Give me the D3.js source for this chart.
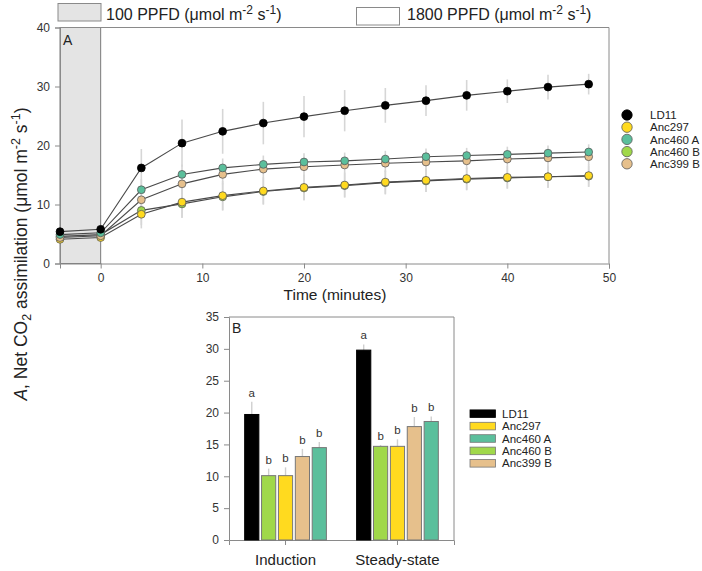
<!DOCTYPE html>
<html><head><meta charset="utf-8">
<script src="https://cdn.jsdelivr.net/npm/d3@7"></script>
<style>
body{margin:0;background:#fff;}
text{font-family:"Liberation Sans",Arial,sans-serif;}
</style></head>
<body><svg id="c" width="702" height="571"></svg>
<script>
// ---------- DATA ----------
const times = [-4,0,4,8,12,16,20,24,28,32,36,40,44,48];
const seriesNames = ["LD11","Anc297","Anc460 A","Anc460 B","Anc399 B"];
const seriesColors = ["#000000","#FFDA1F","#5BBF9C","#A0D84A","#E6C08C"];
const ld11 = [5.4,5.8,16.2,20.4,22.4,23.8,24.9,25.9,26.8,27.6,28.5,29.2,29.9,30.4];
const anc297 = [4.1,4.4,8.35,10.4,11.5,12.3,12.9,13.3,13.8,14.1,14.4,14.6,14.7,14.9];
const anc460A = [4.9,5.2,12.5,15.1,16.2,16.8,17.2,17.4,17.7,18.1,18.3,18.5,18.7,18.9];
const anc460B = [4.6,4.9,9.0,10.1,11.3,12.2,12.8,13.2,13.7,14.0,14.3,14.5,14.7,14.8];
const anc399B = [4.4,4.7,10.8,13.5,15.1,16.0,16.4,16.7,17.0,17.2,17.4,17.7,17.9,18.1];
const ld11Err = [0.3,0.3,3.2,4.0,3.8,3.6,3.5,3.5,2.95,2.6,2.6,2.0,2.1,1.75];
const anc297Err = [0.3,0.3,2.4,2.6,2.5,2.3,2.2,2.1,2.0,2.0,1.9,1.9,1.9,1.9];
const anc460AErr = [0.3,0.3,1.8,1.7,1.6,1.5,1.5,1.4,1.4,1.4,1.3,1.3,1.3,1.3];
const anc460BErr = [0.3,0.3,2.5,2.4,2.3,2.2,2.1,2.0,2.0,1.9,1.9,1.8,1.8,1.8];
const anc399BErr = [0.3,0.3,1.9,1.8,1.7,1.6,1.6,1.5,1.5,1.5,1.4,1.4,1.4,1.4];
const xTicksA = [0,10,20,30,40,50];
const yTicksA = [0,10,20,30,40];

const groups = ["Induction","Steady-state"];
const barOrder = ["LD11","Anc460 B","Anc297","Anc399 B","Anc460 A"];
const barInduction = [19.7,10.1,10.1,13.1,14.5];
const barSteady = [29.8,14.7,14.7,17.8,18.6];
const errInduction = [2.0,1.1,1.3,1.2,0.9];
const errSteady = [0.9,0.2,1.1,1.5,0.8];
const lettersInduction = ["a","b","b","b","b"];
const lettersSteady = ["a","b","b","b","b"];
const yTicksB = [0,5,10,15,20,25,30,35];

// ---------- CHART ----------
const svg = d3.select("#c");
const axisCol = "#8a8a8a", txtCol = "#333";
const colorOf = d3.scaleOrdinal().domain(seriesNames).range(seriesColors);

// ===== Panel A =====
const A = {l:60, r:609, t:27.5, b:263.5};
const x = d3.scaleLinear().domain([-4,50]).range([A.l,A.r]);
const y = d3.scaleLinear().domain([0,40]).range([A.b,A.t]);

svg.append("rect").attr("x",x(-4)).attr("y",y(40)).attr("width",x(0)-x(-4)).attr("height",y(0)-y(40))
  .attr("fill","#e4e4e4").attr("stroke","#7a7a7a").attr("stroke-width",1);

svg.append("line").attr("x1",A.l).attr("x2",A.r).attr("y1",A.t).attr("y2",A.t).attr("stroke",axisCol);
svg.append("line").attr("x1",A.r).attr("x2",A.r).attr("y1",A.t).attr("y2",A.b).attr("stroke",axisCol);

const gx = svg.append("g").attr("transform",`translate(0,${A.b})`)
  .call(d3.axisBottom(x).tickValues(xTicksA).tickSize(5).tickPadding(5).tickFormat(d3.format("d")));
const gy = svg.append("g").attr("transform",`translate(${A.l},0)`)
  .call(d3.axisLeft(y).tickValues(yTicksA).tickSize(5).tickPadding(5));
[gx,gy].forEach(g=>{
  g.selectAll("path,line").attr("stroke",axisCol);
  g.selectAll("text").attr("fill",txtCol).style("font-size","12px");
});

const seriesData = {
  "LD11":{v:ld11,e:ld11Err},
  "Anc297":{v:anc297,e:anc297Err},
  "Anc460 A":{v:anc460A,e:anc460AErr},
  "Anc460 B":{v:anc460B,e:anc460BErr},
  "Anc399 B":{v:anc399B,e:anc399BErr}
};
const drawOrder = ["Anc460 B","Anc297","Anc399 B","Anc460 A","LD11"];

drawOrder.forEach(n=>{
  const s = seriesData[n];
  svg.append("g").selectAll("line").data(times).join("line")
    .attr("x1",(t)=>x(t)).attr("x2",(t)=>x(t))
    .attr("y1",(t,i)=>y(s.v[i]-s.e[i])).attr("y2",(t,i)=>y(s.v[i]+s.e[i]))
    .attr("stroke","#d6d6d6").attr("stroke-width",1.6);
});
const line = d3.line().x(d=>x(d[0])).y(d=>y(d[1]));
drawOrder.forEach(n=>{
  const s = seriesData[n];
  const pts = times.map((t,i)=>[t,s.v[i]]);
  svg.append("path").datum(pts).attr("d",line).attr("fill","none").attr("stroke","#4a4a4a").attr("stroke-width",1.1);
  svg.append("g").selectAll("circle").data(pts).join("circle")
    .attr("cx",d=>x(d[0])).attr("cy",d=>y(d[1])).attr("r",3.9)
    .attr("fill",colorOf(n)).attr("stroke",n==="LD11"?"#000":"#5a5a5a").attr("stroke-width",0.8);
});

svg.append("text").attr("x",63).attr("y",45).text("A").attr("fill","#222").style("font-size","14px");

svg.append("text").attr("x",335).attr("y",300).attr("text-anchor","middle").attr("fill","#222")
  .style("font-size","15.5px").text("Time (minutes)");

function ppfd(xr, yr, xt, label, fill){
  svg.append("rect").attr("x",xr).attr("y",yr).attr("width",43).attr("height",17.5)
    .attr("fill",fill).attr("stroke","#8a8a8a").attr("stroke-width",1);
  const t = svg.append("text").attr("x",xt).attr("y",19.5).attr("fill","#222").style("font-size","16px");
  t.append("tspan").text(label+" (\u03bcmol m");
  t.append("tspan").attr("dy",-6).style("font-size","12px").text("-2");
  t.append("tspan").attr("dy",6).text(" s");
  t.append("tspan").attr("dy",-6).style("font-size","12px").text("-1");
  t.append("tspan").attr("dy",6).text(")");
}
ppfd(58,3.5,106,"100 PPFD","#e4e4e4");
ppfd(356.5,7.5,407,"1800 PPFD","#ffffff");

const legA = svg.append("g");
seriesNames.forEach((n,i)=>{
  const yy = 115 + i*12.2;
  legA.append("circle").attr("cx",627).attr("cy",yy).attr("r",5.2)
    .attr("fill",colorOf(n)).attr("stroke",n==="LD11"?"#000":"#5a5a5a").attr("stroke-width",0.8);
  legA.append("text").attr("x",650).attr("y",yy).attr("dy","0.36em").attr("fill","#222")
    .style("font-size","11.5px").text(n);
});

const yl = svg.append("text").attr("transform","translate(27,254) rotate(-90)").attr("text-anchor","middle")
  .attr("fill","#222").style("font-size","17.5px");
yl.append("tspan").style("font-style","italic").text("A");
yl.append("tspan").text(", Net CO");
yl.append("tspan").attr("dy",4).style("font-size","12.5px").text("2");
yl.append("tspan").attr("dy",-4).text(" assimilation (\u03bcmol m");
yl.append("tspan").attr("dy",-7).style("font-size","12.5px").text("-2");
yl.append("tspan").attr("dy",7).text(" s");
yl.append("tspan").attr("dy",-7).style("font-size","12.5px").text("-1");
yl.append("tspan").attr("dy",7).text(")");

// ===== Panel B =====
const B = {l:229, r:454, t:317, b:540};
const x0 = d3.scaleBand().domain(groups).range([B.l,B.r]).paddingInner(0.27).paddingOuter(0.14);
const x1 = d3.scaleBand().domain(barOrder).range([0,x0.bandwidth()]).paddingInner(0.16).paddingOuter(0);
const yb = d3.scaleLinear().domain([0,35]).range([B.b,B.t]);

svg.append("line").attr("x1",B.l).attr("x2",B.r).attr("y1",B.t).attr("y2",B.t).attr("stroke",axisCol);
svg.append("line").attr("x1",B.r).attr("x2",B.r).attr("y1",B.t).attr("y2",B.b).attr("stroke",axisCol);
const gbx = svg.append("g").attr("transform",`translate(0,${B.b})`)
  .call(d3.axisBottom(x0).tickSize(5).tickPadding(9));
const gby = svg.append("g").attr("transform",`translate(${B.l},0)`)
  .call(d3.axisLeft(yb).tickValues(yTicksB).tickSize(5).tickPadding(5));
gbx.selectAll("path,line").attr("stroke",axisCol);
gbx.selectAll("text").attr("fill","#222").style("font-size","15px");
gby.selectAll("path,line").attr("stroke",axisCol);
gby.selectAll("text").attr("fill",txtCol).style("font-size","12px");

const barRows = [
  {g:"Induction", v:barInduction, e:errInduction, l:lettersInduction},
  {g:"Steady-state", v:barSteady, e:errSteady, l:lettersSteady}
];
barRows.forEach(row=>{
  const gg = svg.append("g").attr("transform",`translate(${x0(row.g)},0)`);
  const d = barOrder.map((n,i)=>({n, v:row.v[i], e:row.e[i], l:row.l[i]}));
  gg.selectAll("line.err").data(d).join("line").attr("class","err")
    .attr("x1",k=>x1(k.n)+x1.bandwidth()/2).attr("x2",k=>x1(k.n)+x1.bandwidth()/2)
    .attr("y1",k=>yb(k.v)).attr("y2",k=>yb(k.v+k.e)).attr("stroke","#cfcfcf").attr("stroke-width",1.4);
  gg.selectAll("rect").data(d).join("rect")
    .attr("x",k=>x1(k.n)).attr("width",x1.bandwidth())
    .attr("y",k=>yb(k.v)).attr("height",k=>yb(0)-yb(k.v))
    .attr("fill",k=>colorOf(k.n)).attr("stroke",k=>k.n==="LD11"?"#000":"#777").attr("stroke-width",1);
  gg.selectAll("text").data(d).join("text")
    .attr("x",k=>x1(k.n)+x1.bandwidth()/2).attr("y",k=>yb(k.v+k.e)-5)
    .attr("text-anchor","middle").attr("fill",txtCol).style("font-size","11.5px").text(k=>k.l);
});

svg.append("text").attr("x",232).attr("y",333).text("B").attr("fill","#222").style("font-size","14px");

const legB = svg.append("g");
seriesNames.forEach((n,i)=>{
  const yy = 413.7 + i*12.4;
  legB.append("rect").attr("x",470).attr("y",yy-3.8).attr("width",25.5).attr("height",7.6)
    .attr("fill",colorOf(n)).attr("stroke",n==="LD11"?"#000":"#777").attr("stroke-width",0.8);
  legB.append("text").attr("x",502).attr("y",yy).attr("dy","0.36em").attr("fill","#222")
    .style("font-size","11.5px").text(n);
});
</script></body></html>
